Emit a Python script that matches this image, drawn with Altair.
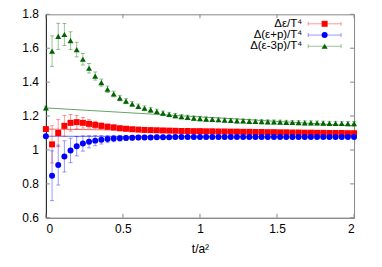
import altair as alt
import pandas as pd

FONT = "Liberation Sans"

t = [0.00, 0.04, 0.08, 0.12, 0.16, 0.20, 0.24, 0.28, 0.32, 0.36,
     0.40, 0.44, 0.48, 0.52, 0.56, 0.60, 0.64, 0.68, 0.72, 0.76,
     0.80, 0.84, 0.88, 0.92, 0.96, 1.00, 1.04, 1.08, 1.12, 1.16,
     1.20, 1.24, 1.28, 1.32, 1.36, 1.40, 1.44, 1.48, 1.52, 1.56,
     1.60, 1.64, 1.68, 1.72, 1.76, 1.80, 1.84, 1.88, 1.92, 1.96,
     2.00]

names = ["Δε/T⁴", "Δ(ε+p)/T⁴", "Δ(ε-3p)/T⁴"]
colors = ["#ff0000", "#0000ff", "#006400"]
shapes = ["square", "circle", "triangle-up"]

eps = [1.123, 1.033, 1.100, 1.142, 1.160, 1.164, 1.160, 1.154, 1.148, 1.142,
       1.137, 1.133, 1.128, 1.125, 1.122, 1.120, 1.118, 1.117, 1.116, 1.115,
       1.114, 1.113, 1.112, 1.112, 1.111, 1.111, 1.110, 1.110, 1.109, 1.109,
       1.108, 1.108, 1.107, 1.107, 1.106, 1.106, 1.105, 1.105, 1.104, 1.104,
       1.103, 1.103, 1.102, 1.102, 1.101, 1.101, 1.100, 1.100, 1.100, 1.099,
       1.099]
eps_err = [0.010, 0.110, 0.080, 0.061, 0.049, 0.039, 0.031, 0.025, 0.021, 0.018,
           0.016, 0.015, 0.014, 0.013, 0.013, 0.012, 0.012, 0.012, 0.012, 0.011,
           0.011, 0.011, 0.011, 0.011, 0.011, 0.011, 0.011, 0.011, 0.011, 0.011,
           0.010, 0.010, 0.010, 0.010, 0.010, 0.010, 0.010, 0.010, 0.010, 0.010,
           0.010, 0.010, 0.010, 0.010, 0.010, 0.010, 0.010, 0.010, 0.010, 0.010,
           0.010]

ent = [1.081, 0.848, 0.911, 0.962, 0.997, 1.022, 1.038, 1.048, 1.055, 1.060,
       1.064, 1.067, 1.069, 1.071, 1.072, 1.073, 1.074, 1.074, 1.075, 1.075,
       1.075, 1.076, 1.076, 1.076, 1.076, 1.076, 1.076, 1.076, 1.076, 1.076,
       1.077, 1.077, 1.077, 1.077, 1.077, 1.077, 1.077, 1.077, 1.077, 1.077,
       1.077, 1.077, 1.077, 1.077, 1.077, 1.077, 1.077, 1.077, 1.077, 1.077,
       1.077]
ent_err = [0.010, 0.147, 0.118, 0.092, 0.072, 0.057, 0.045, 0.036, 0.030, 0.025,
           0.021, 0.018, 0.016, 0.015, 0.014, 0.013, 0.013, 0.012, 0.012, 0.012,
           0.011, 0.011, 0.011, 0.011, 0.011, 0.011, 0.011, 0.011, 0.011, 0.011,
           0.010, 0.010, 0.010, 0.010, 0.010, 0.010, 0.010, 0.010, 0.010, 0.010,
           0.010, 0.010, 0.010, 0.010, 0.010, 0.010, 0.010, 0.010, 0.010, 0.010,
           0.010]

trace = [1.248, 1.583, 1.670, 1.681, 1.645, 1.592, 1.535, 1.482, 1.436, 1.397,
         1.358, 1.330, 1.306, 1.288, 1.271, 1.257, 1.246, 1.236, 1.227, 1.217,
         1.209, 1.202, 1.196, 1.192, 1.188, 1.185, 1.182, 1.180, 1.178, 1.176,
         1.174, 1.172, 1.171, 1.169, 1.168, 1.167, 1.166, 1.165, 1.164, 1.163,
         1.162, 1.161, 1.160, 1.160, 1.159, 1.158, 1.157, 1.157, 1.156, 1.155,
         1.155]
trace_err = [0.010, 0.090, 0.077, 0.065, 0.052, 0.043, 0.034, 0.028, 0.024, 0.021,
             0.019, 0.017, 0.016, 0.015, 0.015, 0.014, 0.014, 0.014, 0.014, 0.013,
             0.013, 0.013, 0.013, 0.013, 0.013, 0.013, 0.013, 0.012, 0.012, 0.012,
             0.012, 0.012, 0.012, 0.012, 0.012, 0.012, 0.012, 0.012, 0.012, 0.012,
             0.012, 0.012, 0.012, 0.012, 0.012, 0.012, 0.012, 0.012, 0.012, 0.012,
             0.012]

# thin reference lines (start / end values)
line_t = [0.0, 2.0]
line_eps = [1.123, 1.100]
line_ent = [1.081, 1.077]
line_trace = [1.248, 1.142]

x_ticks = [0, 0.5, 1, 1.5, 2]
y_ticks = [0.6, 0.8, 1.0, 1.2, 1.4, 1.6, 1.8]
y_labels = ["0.6", "0.8", "1", "1.2", "1.4", "1.6", "1.8"]

rows = []
for name, vals, errs in [(names[0], eps, eps_err), (names[1], ent, ent_err), (names[2], trace, trace_err)]:
    for ti, v, e in zip(t, vals, errs):
        rows.append({"t": ti, "v": v, "lo": v - e, "hi": v + e, "s": name})
df = pd.DataFrame(rows)

lrows = []
for name, vals in [(names[0], line_eps), (names[1], line_ent), (names[2], line_trace)]:
    for ti, v in zip(line_t, vals):
        lrows.append({"t": ti, "v": v, "s": name})
dfl = pd.DataFrame(lrows)

W, H = 309, 204
xs = alt.Scale(domain=[0, 2], nice=False, zero=False)
ys = alt.Scale(domain=[0.6, 1.8], nice=False, zero=False)
cs = alt.Scale(domain=names, range=colors)
ss = alt.Scale(domain=names, range=shapes)

AX = alt.Axis(values=x_ticks, format="~g", ticks=False, tickSize=0, labelPadding=6,
              labelOverlap=False, titlePadding=9, domainColor="#888888")
AY = alt.Axis(values=y_ticks, format="~g", ticks=False, tickSize=0, labelPadding=7,
              labelOverlap=False, domainColor="#222222")


def X(f="t"):
    return alt.X(f + ":Q", scale=xs, title="t/a²", axis=AX)


def Y(f="v"):
    return alt.Y(f + ":Q", scale=ys, title=None, axis=AY)


COL = alt.Color("s:N", scale=cs, legend=None)

lines = alt.Chart(dfl).mark_line(strokeWidth=1, opacity=0.6).encode(
    x=X(), y=Y(), color=COL, detail="s:N")

bars = alt.Chart(df).mark_rule(strokeWidth=1, opacity=0.4).encode(
    x=X(), y=Y("lo"), y2="hi:Q", color=COL)
cap_lo = alt.Chart(df).mark_tick(orient="horizontal", size=4, thickness=1, opacity=0.4).encode(
    x=X(), y=Y("lo"), color=COL)
cap_hi = alt.Chart(df).mark_tick(orient="horizontal", size=4, thickness=1, opacity=0.4).encode(
    x=X(), y=Y("hi"), color=COL)

pts = alt.Chart(df).mark_point(filled=True, size=36, opacity=1).encode(
    x=X(), y=Y(), color=COL,
    shape=alt.Shape("s:N", scale=ss, legend=None))

# inward ticks on all four sides
dyt = pd.DataFrame({"v": y_ticks})
dxt = pd.DataFrame({"t": x_ticks})
tk = dict(color="#888888", strokeWidth=1)
lt = alt.Chart(dyt).mark_rule(**tk).encode(y=Y(), x=alt.value(0), x2=alt.value(4))
rt = alt.Chart(dyt).mark_rule(**tk).encode(y=Y(), x=alt.value(W - 4), x2=alt.value(W))
tt = alt.Chart(dxt).mark_rule(**tk).encode(x=X(), y=alt.value(0), y2=alt.value(4))
bt = alt.Chart(dxt).mark_rule(**tk).encode(x=X(), y=alt.value(H - 4), y2=alt.value(H))

# legend (labels on the left, samples on the right)
leg = []
row_y = [9.5, 20.8, 32.0]
for i, name in enumerate(names):
    d = pd.DataFrame({"label": [name]})
    ry = row_y[i]
    leg.append(alt.Chart(d).mark_text(align="right", baseline="middle", font=FONT, fontSize=11.5,
                                      color="black").encode(
        text="label:N", x=alt.value(257), y=alt.value(ry)))
    leg.append(alt.Chart(d).mark_rule(color=colors[i], opacity=0.4, strokeWidth=1).encode(
        x=alt.value(263), x2=alt.value(296), y=alt.value(ry)))
    leg.append(alt.Chart(d).mark_rule(color=colors[i], opacity=0.4, strokeWidth=1).encode(
        x=alt.value(263), y=alt.value(ry - 2), y2=alt.value(ry + 2)))
    leg.append(alt.Chart(d).mark_rule(color=colors[i], opacity=0.4, strokeWidth=1).encode(
        x=alt.value(296), y=alt.value(ry - 2), y2=alt.value(ry + 2)))
    leg.append(alt.Chart(d).mark_point(filled=True, size=36, opacity=1, color=colors[i],
                                       shape=shapes[i]).encode(
        x=alt.value(279.5), y=alt.value(ry)))

# y tick labels drawn as text next to the axis (guaranteed all shown)
dyl = pd.DataFrame({"v": y_ticks, "lab": y_labels})
ylab = alt.Chart(dyl).mark_text(align="right", baseline="middle", font=FONT, fontSize=12,
                                color="black").encode(
    y=Y(), x=alt.value(-7), text="lab:N")

chart = alt.layer(lines, bars, cap_lo, cap_hi, pts, lt, rt, tt, bt, ylab, *leg).properties(
    width=W, height=H,
    autosize=alt.AutoSizeParams(type="none"),
    padding={"left": 38, "top": 6, "right": 20, "bottom": 40},
    background="white",
).configure_view(stroke="#888888", strokeWidth=1).configure_axis(
    grid=False, labelFont=FONT, titleFont=FONT, labelFontSize=12, titleFontSize=12,
    titleFontWeight="normal", labelColor="black", titleColor="black", labelOverlap=False,
).configure_axisY(labels=False)

chart.save("out.html", embed_options={"renderer": "svg", "actions": False})
